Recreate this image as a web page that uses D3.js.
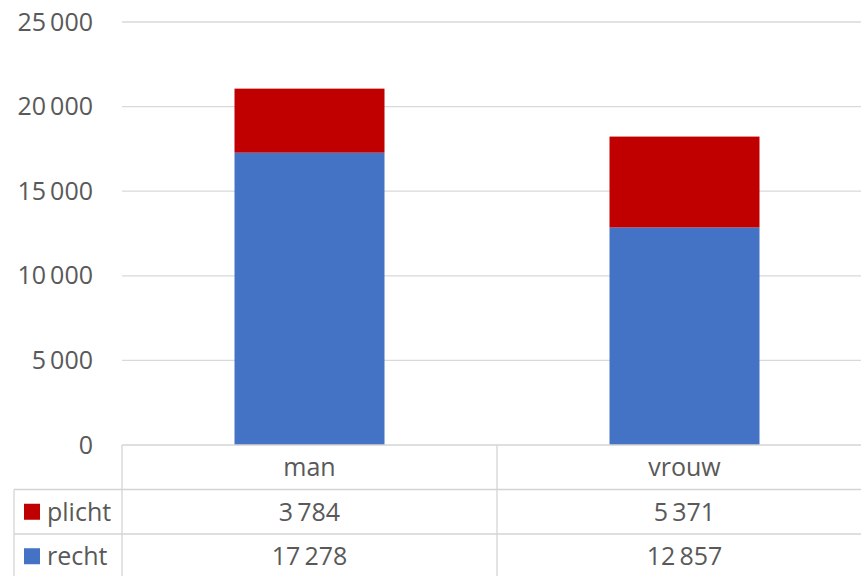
<!DOCTYPE html>
<html>
<head>
<meta charset="utf-8">
<script src="https://cdn.jsdelivr.net/npm/d3@7"></script>
<style>
  body { margin: 0; background: #fff; }
  text { font-family: "Open Sans", "Noto Sans", sans-serif; fill: #595959; }
</style>
</head>
<body>
<script>
var width = 861;
var height = 576;

var categories = ["man", "vrouw"];
var series = ["plicht", "recht"];
var plicht = [3784, 5371];
var recht = [17278, 12857];
var colors = {plicht: "#C00000", recht: "#4472C4"};
var yTicks = [0, 5000, 10000, 15000, 20000, 25000];

// plot area (the right column runs off the picture, like the original)
var plotLeft = 122, plotRight = 872, plotTop = 22, plotBase = 445;
var rowH = 44.5;

var loc = d3.formatLocale({decimal: ",", thousands: "\u2009", grouping: [3], currency: ["", ""]});
var fmt = loc.format(",");

var svg = d3.select("body").append("svg")
    .attr("width", width)
    .attr("height", height);

var x = d3.scaleBand()
    .domain(categories)
    .range([plotLeft, plotRight])
    .padding(0);

var y = d3.scaleLinear()
    .domain([0, 25000])
    .range([plotBase, plotTop]);

var barW = x.bandwidth() * 0.4;

// gridlines
svg.append("g").selectAll("line")
    .data(yTicks.filter(function(d) { return d > 0; }))
  .enter().append("line")
    .attr("x1", plotLeft)
    .attr("x2", plotRight)
    .attr("y1", function(d) { return y(d); })
    .attr("y2", function(d) { return y(d); })
    .style("stroke", "#d9d9d9")
    .style("stroke-width", 1.3);

// y axis labels
var yAxis = d3.axisLeft(y)
    .tickValues(yTicks)
    .tickSize(0)
    .tickPadding(29)
    .tickFormat(fmt);

var ga = svg.append("g")
    .attr("transform", "translate(" + plotLeft + ",0)")
    .call(yAxis);
ga.select(".domain").remove();
ga.selectAll("text")
    .style("font-size", "25px")
    .attr("fill", "#595959");

// stacked bars
var rows = categories.map(function(c, i) { return {cat: c, plicht: plicht[i], recht: recht[i]}; });
var stack = d3.stack().keys(["recht", "plicht"])(rows);

svg.append("g").selectAll("g")
    .data(stack)
  .enter().append("g")
    .style("fill", function(d) { return colors[d.key]; })
  .selectAll("rect")
    .data(function(d) { return d; })
  .enter().append("rect")
    .attr("x", function(d) { return x(d.data.cat) + (x.bandwidth() - barW) / 2; })
    .attr("width", barW)
    .attr("y", function(d) { return y(d[1]); })
    .attr("height", function(d) { return y(d[0]) - y(d[1]); });

// data table
var tableLeft = 14;
var lineCol = "#d4d4d4";
var tbl = svg.append("g");

// horizontal lines
tbl.append("line").attr("x1", plotLeft).attr("x2", plotRight).attr("y1", plotBase).attr("y2", plotBase);
[1, 2, 3].forEach(function(r) {
  tbl.append("line").attr("x1", tableLeft).attr("x2", plotRight)
      .attr("y1", plotBase + rowH * r).attr("y2", plotBase + rowH * r);
});
// vertical lines
tbl.append("line").attr("x1", tableLeft).attr("x2", tableLeft).attr("y1", plotBase + rowH).attr("y2", height);
categories.forEach(function(c) {
  tbl.append("line").attr("x1", x(c)).attr("x2", x(c)).attr("y1", plotBase).attr("y2", height);
});
tbl.append("line").attr("x1", plotRight).attr("x2", plotRight).attr("y1", plotBase).attr("y2", height);
tbl.selectAll("line")
    .style("stroke", lineCol)
    .style("stroke-width", 1.3);

// header
tbl.selectAll(".head")
    .data(categories)
  .enter().append("text")
    .attr("class", "head")
    .attr("x", function(d) { return x(d) + x.bandwidth() / 2; })
    .attr("y", plotBase + rowH / 2)
    .attr("dy", "0.35em")
    .attr("text-anchor", "middle")
    .style("font-size", "25px")
    .text(function(d) { return d; });

var values = {plicht: plicht, recht: recht};
series.forEach(function(s, r) {
  var cy = plotBase + rowH * (r + 1) + rowH / 2;
  tbl.append("rect")
      .attr("x", 24)
      .attr("y", cy - 8)
      .attr("width", 16)
      .attr("height", 16)
      .style("fill", colors[s]);
  tbl.append("text")
      .attr("x", 47)
      .attr("y", cy)
      .attr("dy", "0.35em")
      .style("font-size", "25px")
      .text(s);
  tbl.selectAll(".v" + s)
      .data(values[s])
    .enter().append("text")
      .attr("x", function(d, i) { return x(categories[i]) + x.bandwidth() / 2; })
      .attr("y", cy)
      .attr("dy", "0.35em")
      .attr("text-anchor", "middle")
      .style("font-size", "25px")
      .text(function(d) { return fmt(d); });
});
</script>
</body>
</html>
